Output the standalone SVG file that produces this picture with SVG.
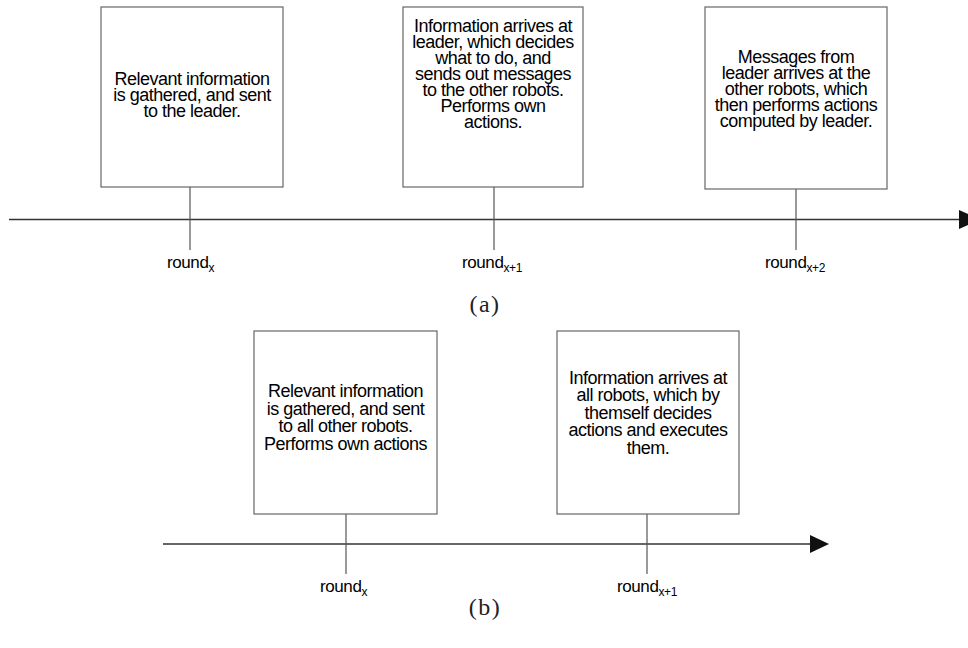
<svg xmlns="http://www.w3.org/2000/svg" width="968" height="648" viewBox="0 0 968 648">
<style>
.box{fill:#fff;stroke:#666;stroke-width:1.2}
.tick{stroke:#555;stroke-width:1.2;fill:none}
.axis{stroke:#333;stroke-width:1.6;fill:none}
.t{font-family:"Liberation Sans",Arial,sans-serif;font-size:18px;fill:#000;text-anchor:middle;letter-spacing:-0.5px}
.lbl{font-family:"Liberation Sans",Arial,sans-serif;font-size:17px;fill:#000;letter-spacing:-0.4px}
.sub{font-size:12px}
.cap{font-family:"Liberation Serif","Times New Roman",serif;font-size:24px;fill:#222;text-anchor:middle;letter-spacing:1.5px}
</style>
<rect width="968" height="648" fill="#fff"/>
<g id="connectors">
<line class="axis" x1="9" y1="219.5" x2="960" y2="219.5"/>
<polygon points="959,210 968,214 968,225 959,229" fill="#111"/>
<line class="tick" x1="190" y1="187" x2="190" y2="250"/>
<line class="tick" x1="494" y1="187" x2="494" y2="250"/>
<line class="tick" x1="796" y1="189" x2="796" y2="250"/>
<line class="axis" x1="163" y1="544" x2="812" y2="544"/>
<polygon points="810,535 829,544 810,553" fill="#111"/>
<line class="tick" x1="346" y1="514" x2="346" y2="574"/>
<line class="tick" x1="647" y1="514" x2="647" y2="574"/>
</g>
<g id="a1">
<rect class="box" x="101" y="7" width="182" height="180"/>
<text class="t" x="192" y="85">Relevant information</text>
<text class="t" x="192" y="101">is gathered, and sent</text>
<text class="t" x="192" y="117">to the leader.</text>
</g>
<g id="a2">
<rect class="box" x="403" y="7" width="180" height="180"/>
<text class="t" x="493" y="32">Information arrives at</text>
<text class="t" x="493" y="48">leader, which decides</text>
<text class="t" x="493" y="64">what to do, and</text>
<text class="t" x="493" y="80">sends out messages</text>
<text class="t" x="493" y="96">to the other robots.</text>
<text class="t" x="493" y="112">Performs own</text>
<text class="t" x="493" y="128">actions.</text>
</g>
<g id="a3">
<rect class="box" x="705" y="7" width="182" height="182"/>
<text class="t" x="796" y="63">Messages from</text>
<text class="t" x="796" y="79">leader arrives at the</text>
<text class="t" x="796" y="95">other robots, which</text>
<text class="t" x="796" y="111">then performs actions</text>
<text class="t" x="796" y="127">computed by leader.</text>
</g>
<g id="labels-a">
<text class="lbl" x="167" y="268">round<tspan class="sub" dy="4">x</tspan></text>
<text class="lbl" x="462" y="268">round<tspan class="sub" dy="4">x+1</tspan></text>
<text class="lbl" x="765" y="268">round<tspan class="sub" dy="4">x+2</tspan></text>
<text class="cap" x="485" y="312">(a)</text>
</g>
<g id="b1">
<rect class="box" x="254" y="331" width="183" height="183"/>
<text class="t" x="345.5" y="397">Relevant information</text>
<text class="t" x="345.5" y="415">is gathered, and sent</text>
<text class="t" x="345.5" y="432">to all other robots.</text>
<text class="t" x="345.5" y="450">Performs own actions</text>
</g>
<g id="b2">
<rect class="box" x="557" y="331" width="182" height="183"/>
<text class="t" x="648" y="384">Information arrives at</text>
<text class="t" x="648" y="401">all robots, which by</text>
<text class="t" x="648" y="419">themself decides</text>
<text class="t" x="648" y="436">actions and executes</text>
<text class="t" x="648" y="454">them.</text>
</g>
<g id="labels-b">
<text class="lbl" x="320" y="592">round<tspan class="sub" dy="4">x</tspan></text>
<text class="lbl" x="617" y="592">round<tspan class="sub" dy="4">x+1</tspan></text>
<text class="cap" x="485" y="615">(b)</text>
</g>
</svg>
